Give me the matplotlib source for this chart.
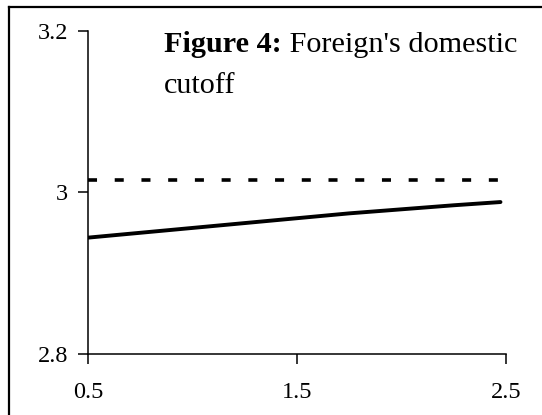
import numpy as np
import matplotlib
matplotlib.use('Agg')
import matplotlib.pyplot as plt
from matplotlib.lines import Line2D

plt.rcParams['font.family'] = ['Liberation Serif', 'DejaVu Serif']

# data
x_vals = [0.5, 0.75, 1.0, 1.25, 1.5, 1.75, 2.0, 2.25, 2.475]
cutoff = [2.944, 2.950, 2.956, 2.962, 2.968, 2.974, 2.979, 2.984, 2.988]
ref_level = 3.015
x_ticks = [0.5, 1.5, 2.5]
x_ticklabels = ['0.5', '1.5', '2.5']
y_ticks = [2.8, 3.0, 3.2]
y_ticklabels = ['2.8', '3', '3.2']

W, H = 542, 415
fig = plt.figure(figsize=(W / 100, H / 100), dpi=100)
ax = fig.add_axes([88.3 / W, 1 - 354 / H, (505.7 - 88.3) / W, (354 - 30.7) / H])

ax.plot(x_vals, cutoff, color='black', lw=2.8, solid_capstyle='round')
ax.plot([x_vals[0], x_vals[-1]], [ref_level, ref_level], color='black', lw=2.6,
        dashes=(2.5, 4.9))

ax.set_xlim(0.5, 2.5)
ax.set_ylim(2.8, 3.2)
ax.set_xticks(x_ticks)
ax.set_xticklabels(x_ticklabels, fontsize=17.5)
ax.set_yticks(y_ticks)
ax.set_yticklabels(y_ticklabels, fontsize=17.5)
ax.tick_params(axis='both', direction='out', length=7.5, width=1.1, color='black')
ax.tick_params(axis='y', pad=7)
ax.tick_params(axis='x', pad=13)
for s in ['top', 'right']:
    ax.spines[s].set_visible(False)
for s in ['left', 'bottom']:
    ax.spines[s].set_linewidth(1.1)

# title inside the chart
t1 = fig.text(164 / W, 1 - 51.7 / H, 'Figure 4:', fontsize=21.8, fontweight='bold',
              ha='left', va='baseline')
fig.canvas.draw()
ax.annotate(" Foreign's domestic", xy=(1, 0), xycoords=t1, fontsize=21.8,
            ha='left', va='bottom', annotation_clip=False)
fig.text(164 / W, 1 - 93 / H, 'cutoff', fontsize=21.8, ha='left', va='baseline')

# outer frame (clipped at right and bottom)
fig.add_artist(Line2D([9.3 / W, 1.0], [1 - 7.3 / H, 1 - 7.3 / H], color='black', lw=1.6,
                      transform=fig.transFigure))
fig.add_artist(Line2D([9.3 / W, 9.3 / W], [0.0, 1 - 7.3 / H], color='black', lw=1.6,
                      transform=fig.transFigure))

fig.savefig('out.png', dpi=100)
